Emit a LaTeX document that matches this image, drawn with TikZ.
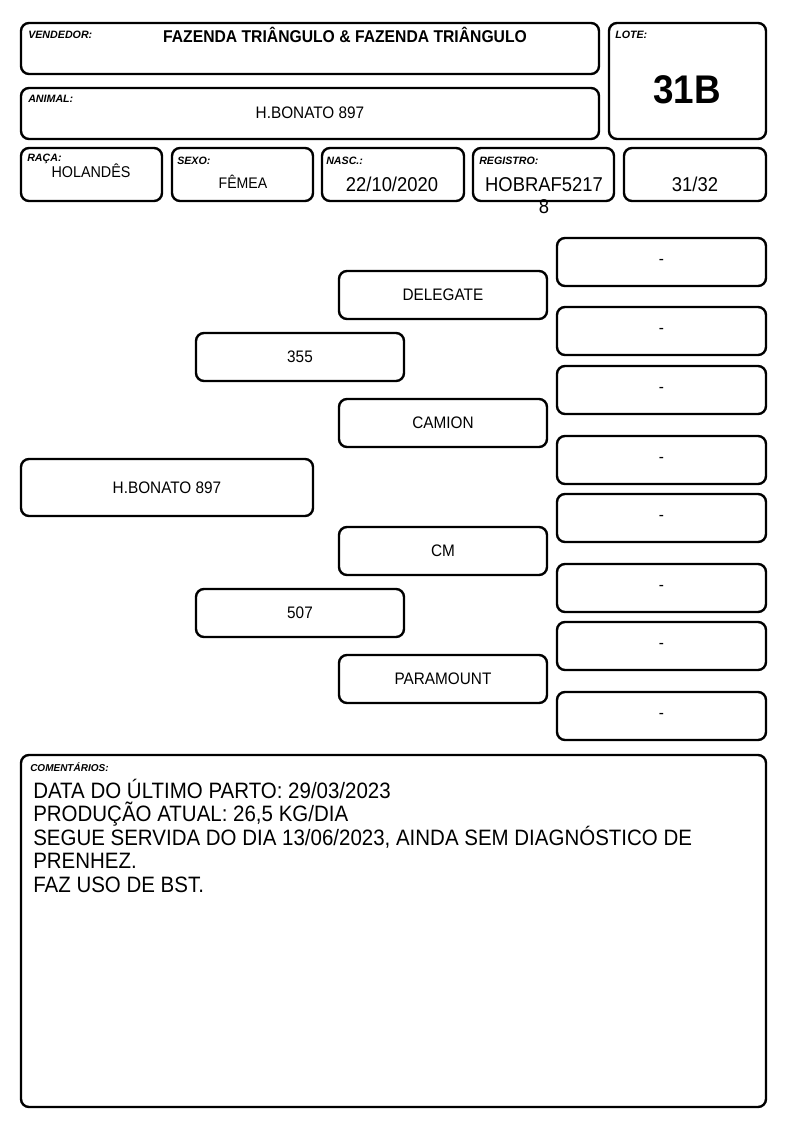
\documentclass[tikz,border=0pt]{standalone}
\usepackage{fontspec}
\setmainfont{Liberation Sans}[FakeStretch=0.92]
\newfontfamily\rotulofont{Liberation Sans}
\usetikzlibrary{positioning}
\setlength{\lineskiplimit}{-100pt}

\tikzstyle{caixa} = [rectangle, rounded corners=6pt, draw=black, line width=1.8pt, inner sep=0pt, outer sep=0pt, anchor=north west, align=center, font=\fontsize{12.5}{15}\selectfont]
\tikzstyle{rotulo} = [anchor=base west, inner sep=0pt, font=\rotulofont\fontsize{8}{9}\selectfont\bfseries\itshape]
\tikzstyle{texto} = [anchor=base, inner sep=0pt, font=\fontsize{12.5}{15}\selectfont]
\tikzstyle{data} = [anchor=base, inner sep=0pt, font=\fontsize{15}{16.5}\selectfont]
\tikzset{tam/.style 2 args={minimum width=#1*0.75pt, minimum height=#2*0.75pt}}

\begin{document}
\begin{tikzpicture}[x=0.75pt, y=-0.75pt]
\useasboundingbox (0,0) rectangle (794,1123);

% cabecalho
\node (vendedor) [caixa, tam={578}{51}] at (21,23) {};
\node (lote) [caixa, tam={157}{116}] at (609,23) {};
\node (nome) [caixa, tam={578}{51}] at (21,88) {};
\node (raca) [caixa, tam={141}{53}] at (21,148) {};
\node (sexo) [caixa, tam={141}{53}] at (172,148) {};
\node (nasc) [caixa, tam={142}{53}] at (322,148) {};
\node (registro) [caixa, tam={141}{53}] at (473,148) {};
\node (ordem) [caixa, tam={142}{53}] at (624,148) {};

\node (rvendedor) [rotulo] at (28,39) {VENDEDOR:};
\node (rlote) [rotulo] at (615,39) {LOTE:};
\node (rnome) [rotulo] at (28,103) {ANIMAL:};
\node (rraca) [rotulo] at (27,162) {RAÇA:};
\node (rsexo) [rotulo] at (177,165) {SEXO:};
\node (rnasc) [rotulo] at (326,165) {NASC.:};
\node (rregistro) [rotulo] at (479,165) {REGISTRO:};

\node (tvendedor) [texto, font=\fontsize{12.8}{15}\selectfont\bfseries] at (345,43) {FAZENDA TRIÂNGULO \& FAZENDA TRIÂNGULO};
\node (tlote) [texto, font=\fontsize{30}{32}\selectfont\bfseries] at (687,104) {31B};
\node (tnome) [texto] at (310,119) {H.BONATO 897};
\node (traca) [texto, font=\fontsize{11.7}{14}\selectfont] at (91,178) {HOLANDÊS};
\node (tsexo) [texto, font=\fontsize{11.5}{14}\selectfont] at (243,189) {FÊMEA};
\node (tnasc) [data] at (392,192) {22/10/2020};
\node (tregistro) [data, align=center] at (544,214) {HOBRAF5217\\8};
\node (tordem) [data] at (695,192) {31/32};

% genealogia
\node (animal) [caixa, tam={292}{57}] at (21,459) {H.BONATO 897};
\node (pai) [caixa, tam={208}{48}] at (196,333) {355};
\node (mae) [caixa, tam={208}{48}] at (196,589) {507};

\node (avo1) [caixa, tam={208}{48}] at (339,271) {DELEGATE};
\node (avo2) [caixa, tam={208}{48}] at (339,399) {CAMION};
\node (avo3) [caixa, tam={208}{48}] at (339,527) {CM};
\node (avo4) [caixa, tam={208}{48}] at (339,655) {PARAMOUNT};

\node (bisavo1) [caixa, tam={209}{48}] at (557,238) {-};
\node (bisavo2) [caixa, tam={209}{48}] at (557,307) {-};
\node (bisavo3) [caixa, tam={209}{48}] at (557,366) {-};
\node (bisavo4) [caixa, tam={209}{48}] at (557,436) {-};
\node (bisavo5) [caixa, tam={209}{48}] at (557,494) {-};
\node (bisavo6) [caixa, tam={209}{48}] at (557,564) {-};
\node (bisavo7) [caixa, tam={209}{48}] at (557,622) {-};
\node (bisavo8) [caixa, tam={209}{48}] at (557,692) {-};

% comentarios
\node (comentarios) [caixa, tam={745}{352}] at (21,755) {};
\node (rcomentarios) [rotulo, font=\rotulofont\fontsize{7.5}{9}\selectfont\bfseries\itshape] at (30,771) {COMENTÁRIOS:};
\node (tcomentarios) [anchor=base west, inner sep=0pt, align=left, font=\fontsize{16.7}{17.6}\selectfont] at (33,892) {DATA DO ÚLTIMO PARTO: 29/03/2023\\PRODUÇÃO ATUAL: 26,5 KG/DIA\\SEGUE SERVIDA DO DIA 13/06/2023, AINDA SEM DIAGNÓSTICO DE\\PRENHEZ.\\FAZ USO DE BST.};

\end{tikzpicture}
\end{document}
